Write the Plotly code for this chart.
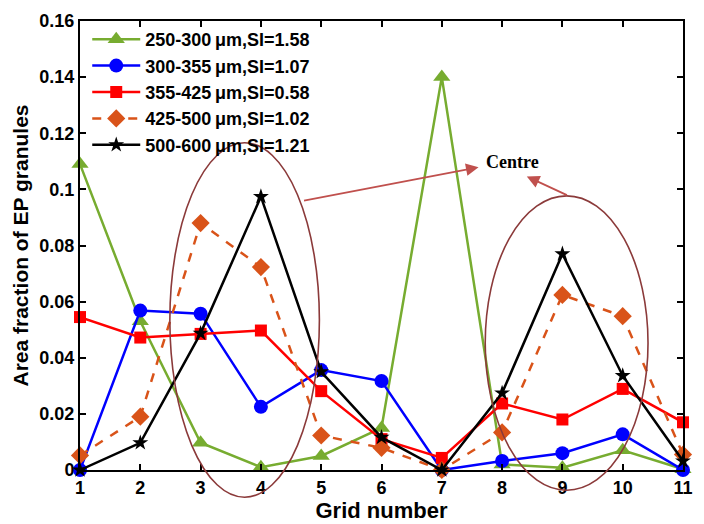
import plotly.graph_objects as go

# Grid positions along the bed
grid = [1, 2, 3, 4, 5, 6, 7, 8, 9, 10, 11]

# Area fraction of EP granules per size class
frac_250_300 = [0.109, 0.053, 0.0097, 0.001, 0.005, 0.015, 0.140, 0.002, 0.0008, 0.007, 0.0003]
frac_300_355 = [0.0, 0.0568, 0.0557, 0.0225, 0.0356, 0.0317, 0.0, 0.0032, 0.006, 0.0127, 0.0]
frac_355_425 = [0.0545, 0.0472, 0.0485, 0.0497, 0.0281, 0.011, 0.0043, 0.0237, 0.018, 0.0289, 0.017]
frac_425_500 = [0.0052, 0.019, 0.088, 0.0723, 0.0123, 0.0079, 0.0, 0.0134, 0.0624, 0.0548, 0.0055]
frac_500_600 = [0.0, 0.0097, 0.0487, 0.0974, 0.035, 0.0116, 0.0, 0.0274, 0.077, 0.0336, 0.0032]

names = ["250-300\u2009μm,SI=1.58", "300-355\u2009μm,SI=1.07", "355-425\u2009μm,SI=0.58",
         "425-500\u2009μm,SI=1.02", "500-600\u2009μm,SI=1.21"]

y_ticks = [0, 0.02, 0.04, 0.06, 0.08, 0.1, 0.12, 0.14, 0.16]
y_tick_text = ["0", "0.02", "0.04", "0.06", "0.08", "0.1", "0.12", "0.14", "0.16"]

X_RANGE = (1, 11)
Y_RANGE = (0, 0.16)

series = [
    (frac_250_300, "#77AC30", "triangle-up", 15, "solid"),
    (frac_300_355, "#0000FF", "circle", 14, "solid"),
    (frac_355_425, "#FF0000", "square", 12, "solid"),
    (frac_425_500, "#D95319", "diamond", 14, "dash"),
    (frac_500_600, "#000000", "star", 12, "solid"),
]

fig = go.Figure()
for (vals, color, symbol, size, dash), name in zip(series, names):
    fig.add_trace(go.Scatter(
        x=grid, y=vals, name=name, mode="lines+markers",
        line=dict(color=color, width=2.5, dash=dash),
        marker=dict(symbol=symbol, size=size, color=color,
                    line=dict(width=0, color=color)),
        cliponaxis=False,
    ))


def to_paper_x(v):
    return (v - X_RANGE[0]) / (X_RANGE[1] - X_RANGE[0])


def to_paper_y(v):
    return (v - Y_RANGE[0]) / (Y_RANGE[1] - Y_RANGE[0])


# Ellipses marking the two centre regions (may extend below the axis)
ellipse_color = "#8B3A3A"
for (x0, x1, y0, y1) in [(2.49, 4.97, -0.0097, 0.1166), (7.72, 10.42, -0.0072, 0.0977)]:
    fig.add_shape(type="circle", xref="paper", yref="paper",
                  x0=to_paper_x(x0), x1=to_paper_x(x1),
                  y0=to_paper_y(y0), y1=to_paper_y(y1),
                  line=dict(color=ellipse_color, width=1.6), layer="above")

arrow_color = "#C0504D"
for (tx, ty, hx, hy) in [(4.69, 0.0959, 7.61, 0.1079), (9.10, 0.0977, 8.41, 0.1046)]:
    fig.add_annotation(x=hx, y=hy, ax=tx, ay=ty, xref="x", yref="y", axref="x", ayref="y",
                       text="", showarrow=True, arrowhead=2, arrowsize=1.4,
                       arrowwidth=1.8, arrowcolor=arrow_color, standoff=0)

fig.add_annotation(x=8.18, y=0.1096, xref="x", yref="y", text="Centre", showarrow=False,
                   font=dict(family="Liberation Serif, Times New Roman, serif", size=18,
                             color="black", weight="bold"))

axis_font = dict(family="Liberation Sans, Arial, sans-serif", size=18, color="black", weight="bold")
x_title_font = dict(family="Liberation Sans, Arial, sans-serif", size=22, color="black", weight="bold")
y_title_font = dict(family="Liberation Sans, Arial, sans-serif", size=21, color="black", weight="bold")

fig.update_xaxes(range=list(X_RANGE), tickvals=grid, ticktext=[str(g) for g in grid],
                 ticks="inside", ticklen=6, tickwidth=1.5, tickcolor="black",
                 showline=True, linewidth=2, linecolor="black", mirror="ticks",
                 showgrid=False, zeroline=False, tickfont=axis_font,
                 title=dict(text="Grid number", font=x_title_font, standoff=0))
fig.update_yaxes(range=list(Y_RANGE), tickvals=y_ticks, ticktext=y_tick_text,
                 ticks="inside", ticklen=6, tickwidth=1.5, tickcolor="black",
                 showline=True, linewidth=2, linecolor="black", mirror="ticks",
                 showgrid=False, zeroline=False, tickfont=axis_font,
                 title=dict(text="Area fraction of EP granules", font=y_title_font, standoff=5))

fig.update_layout(
    width=704, height=524,
    margin=dict(l=80, r=11, t=16, b=51),
    paper_bgcolor="white", plot_bgcolor="white",
    showlegend=True,
    legend=dict(x=0.012, y=1.0, xanchor="left", yanchor="top",
                bgcolor="rgba(255,255,255,0)", borderwidth=0, itemwidth=48,
                font=dict(family="Liberation Sans, Arial, sans-serif", size=18,
                          color="black", weight="bold"),
                tracegroupgap=0),
)

fig.write_html("out.html")
